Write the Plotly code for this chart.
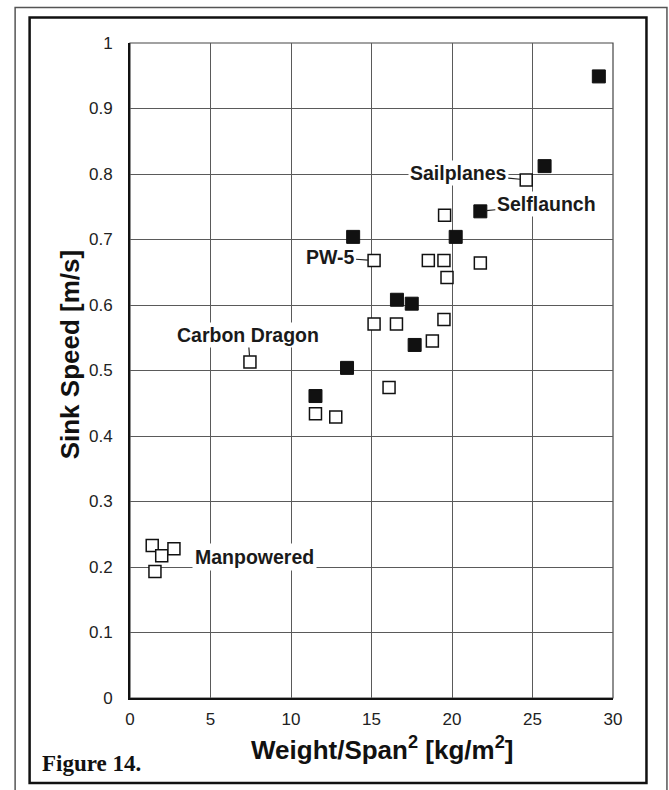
import plotly.graph_objects as go

# ---- data ----
filled_x = [29.12, 25.75, 21.76, 13.86, 20.23, 16.58, 17.50, 17.68, 13.48, 11.52]
filled_y = [0.949, 0.812, 0.743, 0.704, 0.704, 0.608, 0.602, 0.539, 0.504, 0.461]

open_x = [24.61, 19.54, 15.16, 18.53, 19.50, 21.76, 19.69, 15.16, 16.55, 19.50,
          18.78, 16.09, 7.45, 11.52, 12.78, 1.38, 1.97, 2.73, 1.55]
open_y = [0.791, 0.737, 0.668, 0.668, 0.668, 0.664, 0.642, 0.571, 0.571, 0.578,
          0.545, 0.474, 0.513, 0.434, 0.429, 0.233, 0.217, 0.228, 0.193]

x_ticks = [0, 5, 10, 15, 20, 25, 30]
x_ticklabels = ["0", "5", "10", "15", "20", "25", "30"]
y_ticks = [0, 0.1, 0.2, 0.3, 0.4, 0.5, 0.6, 0.7, 0.8, 0.9, 1.0]
y_ticklabels = ["0", "0.1", "0.2", "0.3", "0.4", "0.5", "0.6", "0.7", "0.8", "0.9", "1"]

# labelled points: (text, x, y, text offset x px, text offset y px)
labels = [
    ("Sailplanes", 24.61, 0.791, -68, -7),
    ("Selflaunch", 21.76, 0.743, 66, -7),
    ("PW-5", 15.16, 0.668, -44, -3),
    ("Carbon Dragon", 7.45, 0.513, -2, -27),
]
free_label = ("Manpowered", 7.76, 0.216)

# ---- layout geometry ----
W, H = 669, 790
L, R, T, B = 130, 55.5, 42.5, 92
PW, PH = W - L - R, H - T - B


def px(xp):
    return (xp - L) / PW


def py(yp):
    return (H - B - yp) / PH


SANS = "Liberation Sans, Arial, sans-serif"

fig = go.Figure()
fig.add_trace(go.Scatter(
    x=open_x, y=open_y, mode="markers",
    marker=dict(symbol="square", size=12, color="white",
                line=dict(color="#111", width=1.5)),
    showlegend=False, hoverinfo="skip"))
fig.add_trace(go.Scatter(
    x=filled_x, y=filled_y, mode="markers",
    marker=dict(symbol="square", size=13, color="#111",
                line=dict(color="#111", width=1)),
    showlegend=False, hoverinfo="skip"))

annotations = []
for text, x, y, ax, ay in labels:
    annotations.append(dict(
        x=x, y=y, xref="x", yref="y", text="<b>%s</b>" % text,
        showarrow=True, arrowhead=0, arrowwidth=1.2, arrowcolor="#222",
        ax=ax, ay=ay, standoff=6, bgcolor="white", borderpad=1,
        font=dict(family=SANS, size=19.5, color="#1a1a1a")))
annotations.append(dict(
    x=free_label[1], y=free_label[2], xref="x", yref="y",
    text="<b>%s</b>" % free_label[0], showarrow=False,
    bgcolor="white", borderpad=2,
    font=dict(family=SANS, size=19.5, color="#1a1a1a")))

# axis titles and figure caption
annotations.append(dict(
    x=px(70), y=py(354), xref="paper", yref="paper", textangle=-90,
    xanchor="center", yanchor="middle",
    text="<b>Sink Speed [m/s]</b>", showarrow=False,
    font=dict(family=SANS, size=26, color="#111")))
annotations.append(dict(
    x=px(382), y=py(749), xref="paper", yref="paper",
    xanchor="center", yanchor="middle",
    text="<b>Weight/Span<sup>2</sup> [kg/m<sup>2</sup>]</b>", showarrow=False,
    font=dict(family=SANS, size=26, color="#111")))
annotations.append(dict(
    x=px(40), y=py(764), xref="paper", yref="paper",
    xanchor="left", yanchor="middle",
    text="<b>Figure 14.</b>", showarrow=False,
    font=dict(family="Liberation Serif, Times New Roman, serif", size=23, color="#111")))

shapes = [
    # outer thin page frame
    dict(type="rect", xref="paper", yref="paper",
         x0=px(15), x1=px(667.5), y0=py(800), y1=py(7),
         line=dict(color="#555", width=1.5), layer="below"),
    # inner thick frame
    dict(type="rect", xref="paper", yref="paper",
         x0=px(29.5), x1=px(647), y0=py(783), y1=py(17),
         line=dict(color="#111", width=2.5), layer="below"),
    # thin top/right plot border
    dict(type="rect", xref="x domain", yref="y domain",
         x0=0, x1=1, y0=0, y1=1,
         line=dict(color="#444", width=1.2), layer="below"),
]

fig.update_layout(
    width=W, height=H,
    margin=dict(l=L, r=R, t=T, b=B),
    paper_bgcolor="white", plot_bgcolor="white",
    annotations=annotations, shapes=shapes,
    font=dict(family=SANS, color="#222"),
)
fig.update_xaxes(
    range=[0, 30], tickvals=x_ticks, ticktext=x_ticklabels,
    showgrid=True, gridcolor="#5a5a5a", gridwidth=1,
    zeroline=False, showline=True, linecolor="#111", linewidth=2,
    ticks="", ticklabelstandoff=5,
    tickfont=dict(family=SANS, size=17, color="#222"))
fig.update_yaxes(
    range=[0, 1], tickvals=y_ticks, ticktext=y_ticklabels,
    showgrid=True, gridcolor="#5a5a5a", gridwidth=1,
    zeroline=False, showline=True, linecolor="#111", linewidth=2,
    ticks="", ticklabelstandoff=12,
    tickfont=dict(family=SANS, size=17, color="#222"))

fig.write_html("out.html", config={"displayModeBar": False},
               post_script="document.body.style.margin='0px';document.body.style.overflow='hidden';")
